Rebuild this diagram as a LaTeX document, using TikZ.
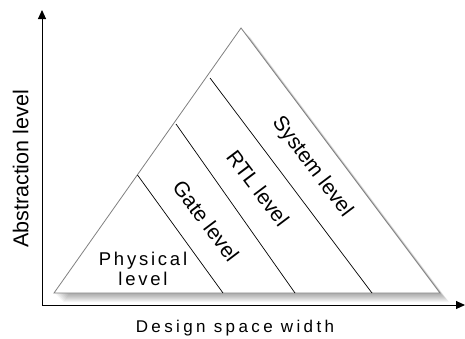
\documentclass[tikz,border=0pt]{standalone}
\usepackage{fontspec}
\setmainfont{Liberation Sans}
\usetikzlibrary{arrows.meta}
\definecolor{edgegray}{RGB}{128,128,128}
\tikzset{
  axes/.style={{Triangle[length=9pt,width=8pt]}-{Triangle[length=9pt,width=8pt]}, line width=1pt, draw=black},
  divider/.style={draw=black, line width=0.7pt},
  lvl/.style={rotate=-53, inner sep=0pt, font=\fontsize{21}{24}\selectfont},
  axislabel/.style={inner sep=0pt, font=\fontsize{#1}{24}\selectfont},
}

\begin{document}
\begin{tikzpicture}[x=1pt,y=-1pt]
  \useasboundingbox (0,0) rectangle (465,338);
  \coordinate (apex) at (241,28);
  \coordinate (bl) at (54,293);
  \coordinate (br) at (440,293);
  \coordinate (o) at (42,305);
  \coordinate (ytip) at (42,10);
  \coordinate (xtip) at (465,305);
  % soft shadow under the pyramid
  \foreach \s in {1,...,9}
    \fill[black, opacity=0.045] ([shift={(\s,\s)}]apex) -- ([shift={(\s,\s)}]bl) -- ([shift={(\s,\s)}]br) -- cycle;
  \fill[white] (apex) -- (bl) -- (br) -- cycle;
  \draw[edgegray, line width=0.8pt] (apex) -- (bl) -- (br) -- cycle;
  \draw[axes] (ytip) -- (o) -- (xtip);
  % level boundaries
  \coordinate (top1) at (137.5,175); \coordinate (bot1) at (223,293);
  \coordinate (top2) at (176,124);   \coordinate (bot2) at (295,293);
  \coordinate (top3) at (210,78);    \coordinate (bot3) at (372,293);
  \foreach \i in {1,2,3} \draw[divider] (top\i) -- (bot\i);
  \node[font=\fontsize{18.5}{20}\selectfont\addfontfeature{LetterSpace=15}, align=center, inner sep=0pt] (physical) at (143,268.5) {Physical\\level};
  \node[lvl] (gate) at (206,221) {Gate level};
  \node[lvl] (rtl) at (258,188) {RTL level};
  \node[lvl] (system) at (312,167) {System level};
  \node[axislabel=21.5, rotate=90, anchor=base] (ylabel) at (28.3,169) {Abstraction level};
  \node[inner sep=0pt, font=\fontsize{17}{18}\selectfont\addfontfeature{LetterSpace=20}, anchor=base] (xlabel) at (235,332) {Design space width};
\end{tikzpicture}
\end{document}
